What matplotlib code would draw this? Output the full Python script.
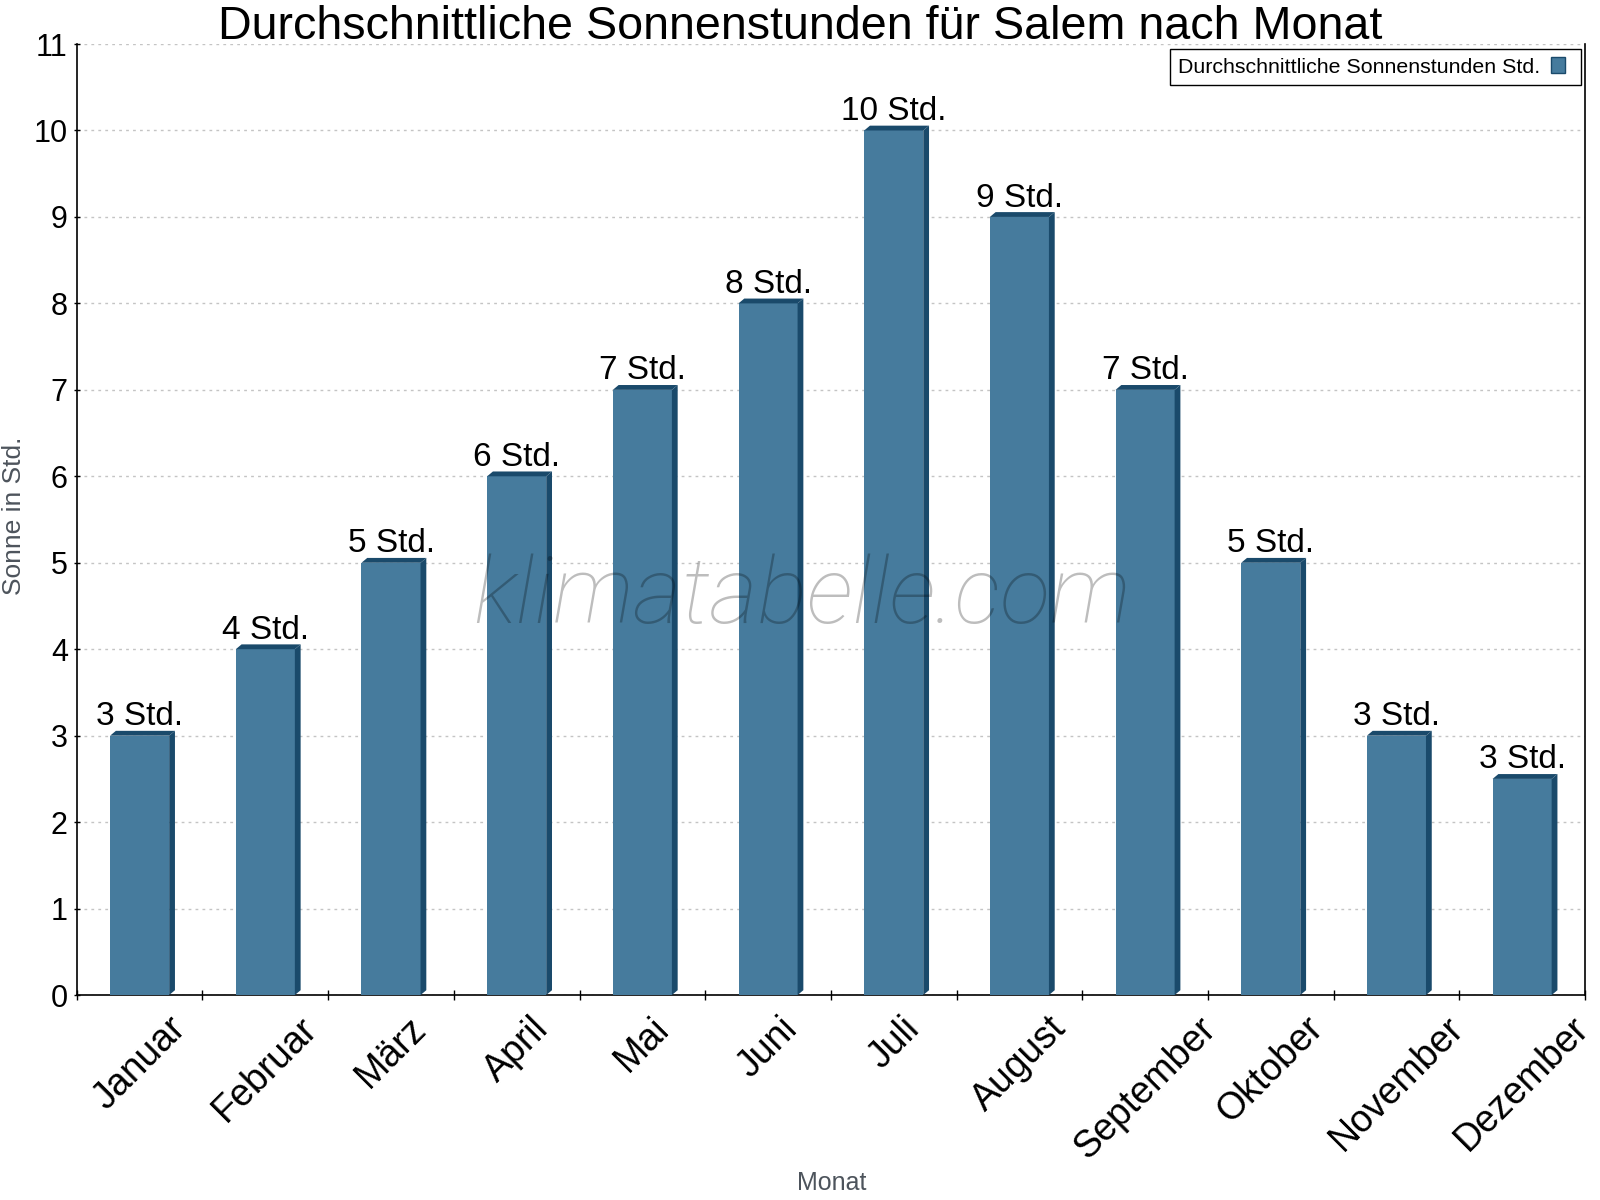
import numpy as np
import matplotlib
matplotlib.use("Agg")
import matplotlib.pyplot as plt
from matplotlib.patches import Polygon, Patch, Rectangle
from matplotlib.legend_handler import HandlerPatch
from matplotlib import font_manager

months = ["Januar", "Februar", "März", "April", "Mai", "Juni", "Juli",
          "August", "September", "Oktober", "November", "Dezember"]
sun_hours = [3, 4, 5, 6, 7, 8, 10, 9, 7, 5, 3, 2.5]
sun_labels = ["3 Std.", "4 Std.", "5 Std.", "6 Std.", "7 Std.", "8 Std.", "10 Std.",
              "9 Std.", "7 Std.", "5 Std.", "3 Std.", "3 Std."]
y_ticks = list(range(0, 12))

front_col = "#467b9d"
dark_col = "#1a4a6b"
axis_grey = "#4d545c"

plt.rcParams['font.family'] = ['Liberation Sans', 'DejaVu Sans']

installed = {f.name for f in font_manager.fontManager.ttflist}
wm_family = 'Roboto' if 'Roboto' in installed else 'DejaVu Sans'

fig = plt.figure(figsize=(16, 12), dpi=100)
ax = fig.add_axes([0.048, 0.1708, 0.9426, 0.7925])

x = np.arange(len(months))
bar_w = 0.47
# 3d offset in data units (about 6 px right, 5 px up)
dx, dy = 0.046, 0.056

ax.bar(x, sun_hours, width=bar_w, color=front_col, zorder=3)
for xi, v in zip(x, sun_hours):
    x0, x1 = xi - bar_w / 2, xi + bar_w / 2
    top = Polygon([(x0, v), (x0 + dx, v + dy), (x1 + dx, v + dy), (x1, v)],
                  closed=True, facecolor=dark_col, edgecolor='none', zorder=3)
    side = Polygon([(x1, 0), (x1 + dx, dy), (x1 + dx, v + dy), (x1, v)],
                   closed=True, facecolor=dark_col, edgecolor='none', zorder=3)
    ax.add_patch(top)
    ax.add_patch(side)

for xi, v, lab in zip(x, sun_hours, sun_labels):
    ax.annotate(lab, (xi, v), xytext=(0, 7.5), textcoords='offset points',
                ha='center', va='baseline', fontsize=24, color='black', zorder=5)

ax.set_xlim(-0.5, len(months) - 0.5)
ax.set_ylim(0, 11)
ax.set_yticks(y_ticks)
ax.set_yticklabels([str(t) for t in y_ticks], fontsize=22)
ax.tick_params(axis='y', direction='inout', length=5, width=1, pad=4)

ax.set_xticks(np.arange(-0.5, len(months), 1.0))
ax.set_xticklabels([])
ax.set_xticks(x, minor=True)
ax.set_xticklabels(months, minor=True, rotation=45, ha='center', fontsize=27)
ax.tick_params(axis='x', which='major', direction='inout', length=7, width=1)
ax.tick_params(axis='x', which='minor', length=0, pad=11)

ax.grid(axis='y', color='#c4c4c4', linestyle=(0, (2, 3)), linewidth=1)
ax.set_axisbelow(True)
ax.spines['top'].set_visible(False)
for s in ['left', 'bottom', 'right']:
    ax.spines[s].set_linewidth(1.2)
    ax.spines[s].set_color('black')

fig.text(0.5, 0.996, "Durchschnittliche Sonnenstunden für Salem nach Monat",
         ha='center', va='top', fontsize=33.6, color='black')
fig.text(0.52, 0.014, "Monat", ha='center', va='center', fontsize=18, color=axis_grey)
fig.text(0.009, 0.57, "Sonne in Std.", ha='center', va='center', rotation=90,
         fontsize=19, color=axis_grey)

fig.text(0.501, 0.481, "klimatabelle.com", ha='center', va='baseline',
         fontsize=67, style='italic', fontweight='light',
         family=[wm_family, 'DejaVu Sans'], color='black', alpha=0.26, zorder=10)


def small_box(legend, orig_handle, xdescent, ydescent, width, height, fontsize):
    # legend swatch narrower than the handle slot, leaves room on the right
    return Rectangle((-xdescent, -ydescent), 0.62 * fontsize, height)


handle = Patch(facecolor=front_col, edgecolor=dark_col, linewidth=1)
leg = ax.legend([handle], ["Durchschnittliche Sonnenstunden Std."], loc='upper right',
                bbox_to_anchor=(0.9975, 0.995), fontsize=15.4, markerfirst=False,
                handlelength=1.0, handleheight=0.77, handletextpad=0.5,
                borderpad=0.4, fancybox=False, framealpha=1, borderaxespad=0,
                handler_map={Patch: HandlerPatch(patch_func=small_box)})
leg.get_frame().set_edgecolor('black')
leg.get_frame().set_linewidth(1)

fig.savefig("out.png", dpi=100)
